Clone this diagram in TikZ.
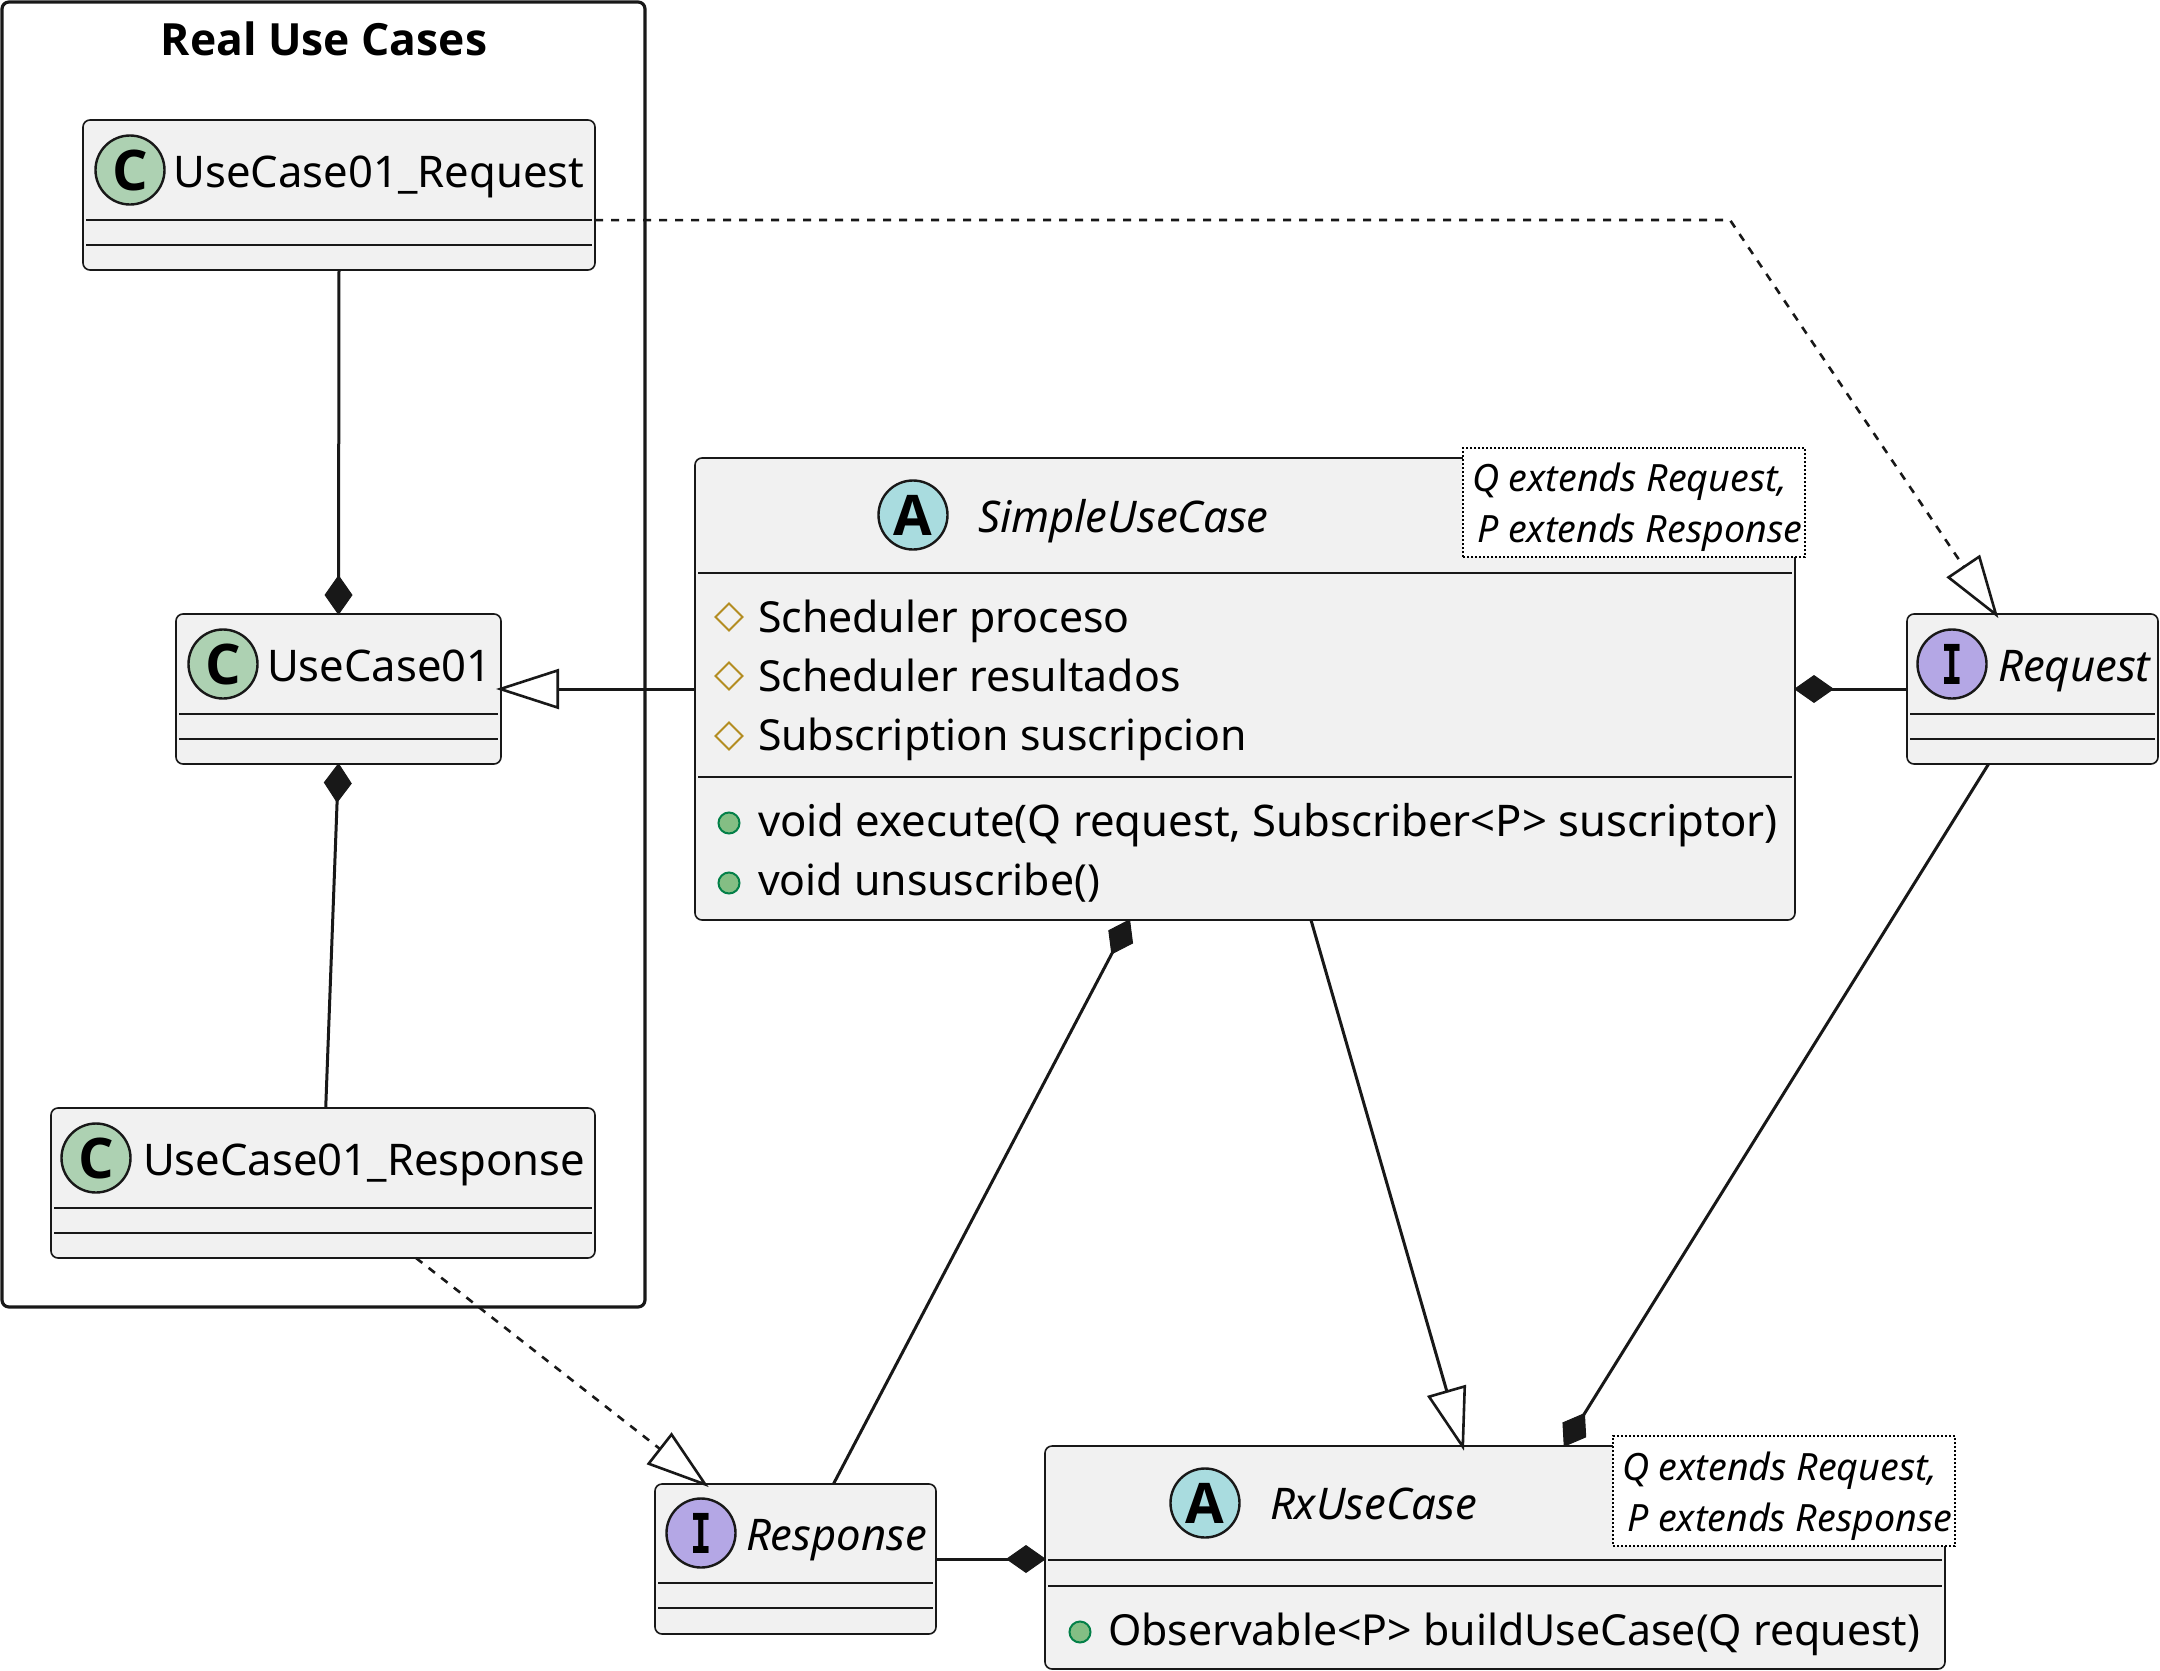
\documentclass[tikz,border=0pt]{standalone}
\usepackage{fontspec}
\usepackage{graphicx}
\setmainfont{Noto Sans}
\newfontfamily\heavyfont{Open Sans}
\newfontfamily\spotfont{DejaVu Sans Mono}
\usetikzlibrary{arrows.meta,calc,shapes.geometric}
\definecolor{boxfill}{HTML}{F1F1F1}
\definecolor{ink}{HTML}{181818}
\definecolor{spotC}{HTML}{ADD1B2}
\definecolor{spotA}{HTML}{A9DCDF}
\definecolor{spotI}{HTML}{B4A7E5}
\definecolor{protstroke}{HTML}{B38D22}
\definecolor{pubstroke}{HTML}{038048}
\definecolor{pubfill}{HTML}{84BE84}
\newcommand{\namesize}{\fontsize{21.8pt}{26pt}\selectfont}
\newcommand{\membersize}{\fontsize{21.4pt}{26pt}\selectfont}
\newcommand{\notesize}{\fontsize{18.8pt}{23pt}\selectfont\itshape}
\tikzset{
  classbox/.style={draw=ink,fill=boxfill,line width=0.8pt,rounded corners=3.5pt,inner sep=0pt,outer sep=0pt},
  clusterbox/.style={draw=ink,line width=1.6pt,rounded corners=3.5pt,inner sep=0pt,outer sep=0pt},
  notebox/.style={draw=black,fill=white,line width=0.7pt,dash pattern=on 1pt off 1pt,inner sep=0pt,outer sep=0pt},
  divider/.style={draw=ink,line width=0.7pt},
  spot/.style={circle,draw=ink,line width=1.2pt,minimum size=34.5pt,inner sep=0pt,outer sep=0pt,font=\heavyfont\bfseries\fontsize{28pt}{28pt}\selectfont,text=black},
  ispot/.style={spot,font=\spotfont\bfseries\fontsize{27.5pt}{28pt}\selectfont},
  label/.style={anchor=base west,inner sep=0pt,outer sep=0pt,text=black,font=\namesize},
  mlabel/.style={label,font=\membersize},
  ilabel/.style={anchor=base west,inner sep=0pt,outer sep=0pt,text=black,font=\namesize\itshape},
  nlabel/.style={anchor=base west,inner sep=0pt,outer sep=0pt,text=black,font=\notesize},
  titlelabel/.style={anchor=base,inner sep=0pt,outer sep=0pt,text=black,font=\heavyfont\bfseries\fontsize{22.2pt}{26pt}\selectfont},
  protected/.style={diamond,aspect=1,draw=protstroke,fill=boxfill,line width=1pt,minimum size=13.5pt,inner sep=0pt,outer sep=0pt},
  public/.style={circle,draw=pubstroke,fill=pubfill,line width=1pt,minimum size=10.5pt,inner sep=0pt,outer sep=0pt},
  link/.style={draw=ink,line width=1.5pt},
  dotlink/.style={draw=ink,line width=1.3pt,dash pattern=on 4pt off 4pt},
  composed/.style={-{Diamond[length=20pt,width=14pt,fill=ink,line width=0.5pt]},shorten >=-0.5pt},
  extends/.style={-{Triangle[length=31.5pt,width=20pt,fill=white,line width=1.3pt]},shorten >=-2.5pt},
}
\newcommand{\umlbox}[6][classbox]{%
  \node[#1,minimum width={(#5-#3)*0.5pt},minimum height={(#6-#4)*0.5pt}] (#2) at ({(#3+#5)/2},{(#4+#6)/2}) {};}
\newcommand{\rules}[5]{% name, l, r, y1, y2
  \draw[divider] (#2+3,#4) -- (#3-3,#4);
  \draw[divider] (#2+3,#5) -- (#3-3,#5);}
\newcommand{\narrowI}{\scalebox{0.65}[1]{I}}
\begin{document}
\begin{tikzpicture}[x=0.5pt,y=-0.5pt]
\useasboundingbox (0,0) rectangle (2160,1671);
% cluster
\umlbox[clusterbox]{cluster}{2}{2}{645}{1307}
\node[titlelabel] (clusterTitle) at (324,55) {Real Use Cases};
% UseCase01_Request
\umlbox{ucReq}{83}{120}{595}{270}
\rules{ucReq}{83}{595}{220}{245}
\node[spot,fill=spotC] (ucReqSpot) at (130,170) {C};
\node[label] (ucReqName) at (173.5,187) {UseCase01\_Request};
% UseCase01
\umlbox{uc}{176}{614}{501}{764}
\rules{uc}{176}{501}{714}{739}
\node[spot,fill=spotC] (ucSpot) at (223,664) {C};
\node[label] (ucName) at (267,681) {UseCase01};
% UseCase01_Response
\umlbox{ucRes}{51}{1108}{595}{1258}
\rules{ucRes}{51}{595}{1208}{1233}
\node[spot,fill=spotC] (ucResSpot) at (96,1158) {C};
\node[label] (ucResName) at (143,1175) {UseCase01\_Response};
% SimpleUseCase
\umlbox{simple}{695}{458}{1795}{920}
\rules{simple}{695}{1795}{573}{777}
\node[spot,fill=spotA] (simpleSpot) at (913,515) {A};
\node[ilabel] (simpleName) at (978,532) {SimpleUseCase};
\node[protected] (m1i) at (729,617) {};
\node[mlabel] (m1) at (758,632) {Scheduler proceso};
\node[protected] (m2i) at (729,676) {};
\node[mlabel] (m2) at (758,691) {Scheduler resultados};
\node[protected] (m3i) at (729,736) {};
\node[mlabel] (m3) at (758,750) {Subscription suscripcion};
\node[public] (m4i) at (729,823) {};
\node[label] (m4) at (758,836) {void execute(Q request, Subscriber<P> suscriptor)};
\node[public] (m5i) at (729,883) {};
\node[mlabel] (m5) at (758,895) {void unsuscribe()};
% Request
\umlbox{req}{1907}{614}{2158}{764}
\rules{req}{1907}{2158}{714}{739}
\node[ispot,fill=spotI] (reqSpot) at (1952,664) {\narrowI};
\node[ilabel] (reqName) at (1998,681) {Request};
% Response
\umlbox{res}{655}{1484}{936}{1634}
\rules{res}{655}{936}{1583}{1608}
\node[ispot,fill=spotI] (resSpot) at (701,1533) {\narrowI};
\node[ilabel] (resName) at (746,1550) {Response};
% RxUseCase
\umlbox{rx}{1045}{1446}{1945}{1669}
\rules{rx}{1045}{1945}{1560}{1586}
\node[spot,fill=spotA] (rxSpot) at (1205,1503) {A};
\node[ilabel] (rxName) at (1270,1519) {RxUseCase};
\node[public] (m6i) at (1080,1632) {};
\node[mlabel] (m6) at (1108,1645) {Observable<P> buildUseCase(Q request)};
% connectors
\draw[link,composed] (ucReq.south) -- (uc.north);
\draw[link,composed] ($(ucRes.north west)!0.505!(ucRes.north east)$) -- (uc.south);
\draw[link,extends] (simple.west) -- (uc.east);
\draw[link,composed] (req.west) -- (simple.east);
\coordinate (bend) at (1730,220);
\draw[dotlink,extends] ($(ucReq.north east)!0.667!(ucReq.south east)$) -- (bend) -- ($(req.north west)!0.353!(req.north east)$);
\draw[link,composed] ($(res.north west)!0.635!(res.north east)$) -- ($(simple.south west)!0.395!(simple.south east)$);
\draw[link,extends] ($(simple.south west)!0.56!(simple.south east)$) -- ($(rx.north west)!0.464!(rx.north east)$);
\draw[link,composed] ($(req.south west)!0.325!(req.south east)$) -- ($(rx.north west)!0.577!(rx.north east)$);
\draw[dotlink,extends] ($(ucRes.south west)!0.671!(ucRes.south east)$) -- ($(res.north west)!0.177!(res.north east)$);
\draw[link,composed] (res.east) -- (res.east -| rx.west);
% generic parameter notes
\umlbox[notebox]{simpleNote}{1463}{448}{1805}{557}
\node[nlabel] (simpleNoteA) at (1472,491) {Q extends Request,};
\node[nlabel] (simpleNoteB) at (1477,542) {P extends Response};
\umlbox[notebox]{rxNote}{1613}{1436}{1955}{1546}
\node[nlabel] (rxNoteA) at (1622,1480) {Q extends Request,};
\node[nlabel] (rxNoteB) at (1627,1531) {P extends Response};
\end{tikzpicture}
\end{document}
